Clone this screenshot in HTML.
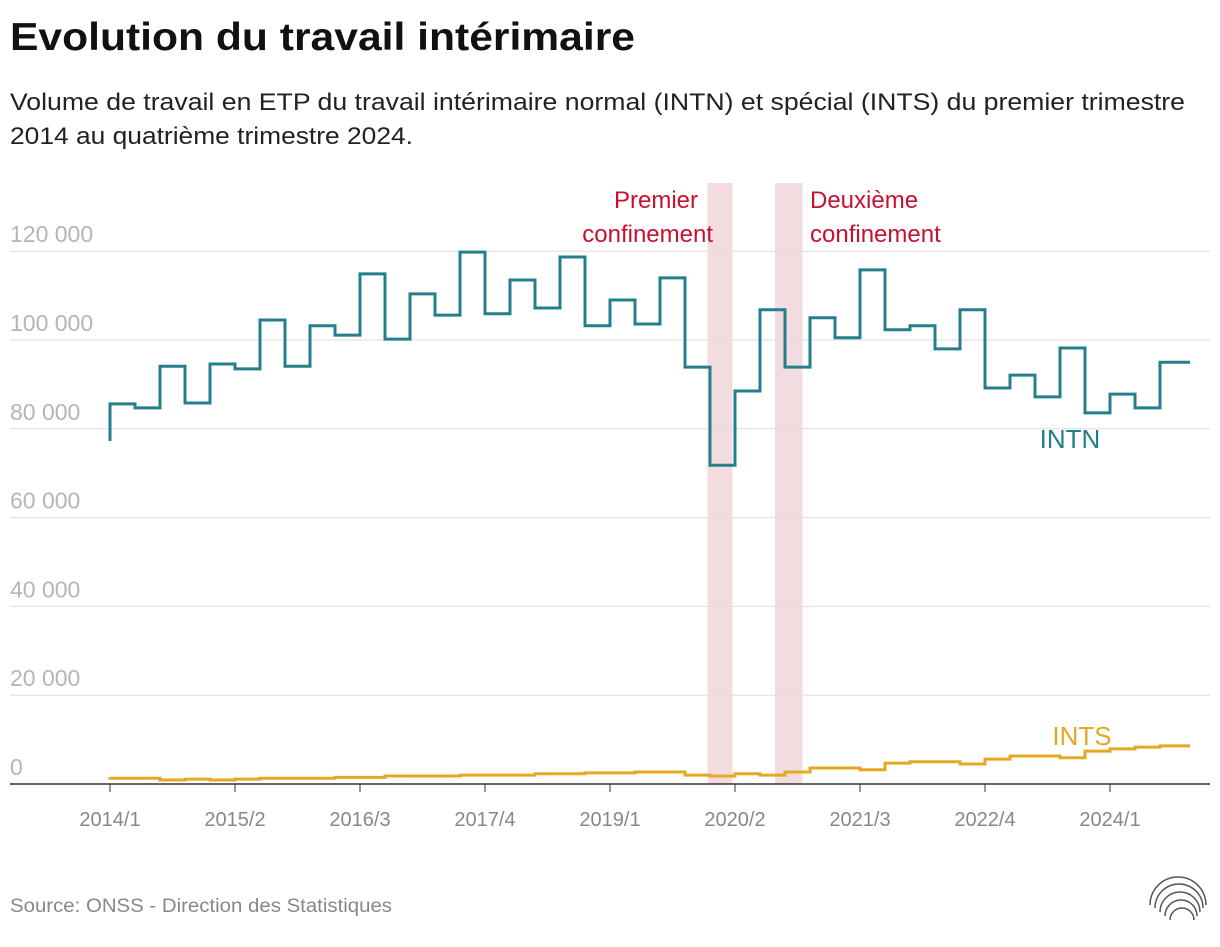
<!DOCTYPE html>
<html><head><meta charset="utf-8"><style>
body{margin:0;background:#fff;width:1220px;height:942px;overflow:hidden;font-family:"Liberation Sans",sans-serif}
</style></head><body>
<svg id="c" width="1220" height="942" xmlns="http://www.w3.org/2000/svg">
<text x="10" y="50" font-size="39" font-weight="bold" fill="#111" textLength="625" lengthAdjust="spacingAndGlyphs">Evolution du travail intérimaire</text>
<text x="10" y="110" font-size="24" fill="#222" textLength="1175" lengthAdjust="spacingAndGlyphs">Volume de travail en ETP du travail intérimaire normal (INTN) et spécial (INTS) du premier trimestre</text>
<text x="10" y="144" font-size="24" fill="#222" textLength="403" lengthAdjust="spacingAndGlyphs">2014 au quatrième trimestre 2024.</text>
<text x="10" y="912" font-size="19" fill="#888" textLength="382" lengthAdjust="spacingAndGlyphs">Source: ONSS - Direction des Statistiques</text>
<g fill="none" stroke="#555" stroke-width="1.5">
<path d="M1150 905 A28 28 0 0 1 1206 905"/><path d="M1155 908 A24 24 0 0 1 1203 908"/><path d="M1160 912 A20 20 0 0 1 1200 912"/><path d="M1165 916 A16 16 0 0 1 1197 916"/><path d="M1170 920 A12 12 0 0 1 1194 920"/>
</g>
<g id="plot"></g>
</svg>
<script>
const categories=[];for(let y=2014;y<=2024;y++)for(let q=1;q<=4;q++)categories.push(y+'/'+q);
const intn=[77250,85600,84700,94100,85800,94600,93500,104500,94100,103200,101100,114900,100200,110400,105600,119800,105900,113500,107200,118700,103200,109000,103600,114000,93900,71800,88500,106800,93900,105000,100500,115800,102300,103200,98000,106800,89200,92100,87200,98200,83600,87800,84700,95000];
const ints=[1500,1300,1300,900,1100,900,1100,1300,1300,1300,1500,1500,1800,1800,1800,2000,2000,2000,2300,2300,2500,2500,2700,2700,2000,1800,2300,2000,2700,3600,3600,3200,4700,5000,5000,4500,5600,6300,6300,5900,7400,7900,8300,8600];
const yTicks=[0,20000,40000,60000,80000,100000,120000];
const yTickLabels=['0','20 000','40 000','60 000','80 000','100 000','120 000'];
const xTickIdx=[0,5,10,15,20,25,30,35,40];
const bands=[[23.9,24.9],[26.6,27.7]];
const X=i=>110+25*i, Y=v=>784-v*0.00444;
const g=document.getElementById('plot'),NS='http://www.w3.org/2000/svg';
function mk(t,a,txt){const e=document.createElementNS(NS,t);for(const k in a)e.setAttribute(k,a[k]);if(txt!=null)e.textContent=txt;g.appendChild(e);return e;}
bands.forEach((b,i)=>{const e=mk('rect',{x:X(b[0]),y:183,width:X(b[1])-X(b[0]),height:601,fill:'#f3dcdf'});

});
yTicks.forEach((v,i)=>{if(v>0){const l=mk('line',{x1:10,x2:1210,y1:Y(v),y2:Y(v),stroke:'#ddd','stroke-width':1});

}
const t=mk('text',{x:10,y:Y(v)-9,'font-size':23,fill:'#b5b5b5'},yTickLabels[i]);

});
const ax=mk('line',{x1:10,x2:1210,y1:784,y2:784,stroke:'#333','stroke-width':1.5});


xTickIdx.forEach(i=>{mk('line',{x1:X(i),x2:X(i),y1:784,y2:792,stroke:'#333'});
const t=mk('text',{x:X(i),y:826,'font-size':20,fill:'#888','text-anchor':'middle'},categories[i]);

});
function step(d){let p='M'+X(0)+' '+Y(d[0]);for(let i=1;i<d.length;i++)p+=' V'+Y(d[i])+' H'+X(i);return p+' H'+(X(d.length-1)+5);}
const l1=mk('path',{d:step(intn),fill:'none',stroke:'#237f8b','stroke-width':3});


const l2=mk('path',{d:step(ints),fill:'none',stroke:'#e5a823','stroke-width':3});


[['INTN',1070,448,'#237f8b','intn-label'],['INTS',1082,745,'#e5a823','ints-label']].forEach(a=>{const t=mk('text',{x:a[1],y:a[2],'font-size':26,fill:a[3],'text-anchor':'middle'},a[0]);

});
[['Premier',698,208,'end'],['confinement',713,242,'end'],['Deuxième',810,208,'start'],['confinement',810,242,'start']].forEach(a=>{const t=mk('text',{x:a[1],y:a[2],'font-size':24,fill:'#c8102e','text-anchor':a[3]},a[0]);

});
</script>
</body></html>
